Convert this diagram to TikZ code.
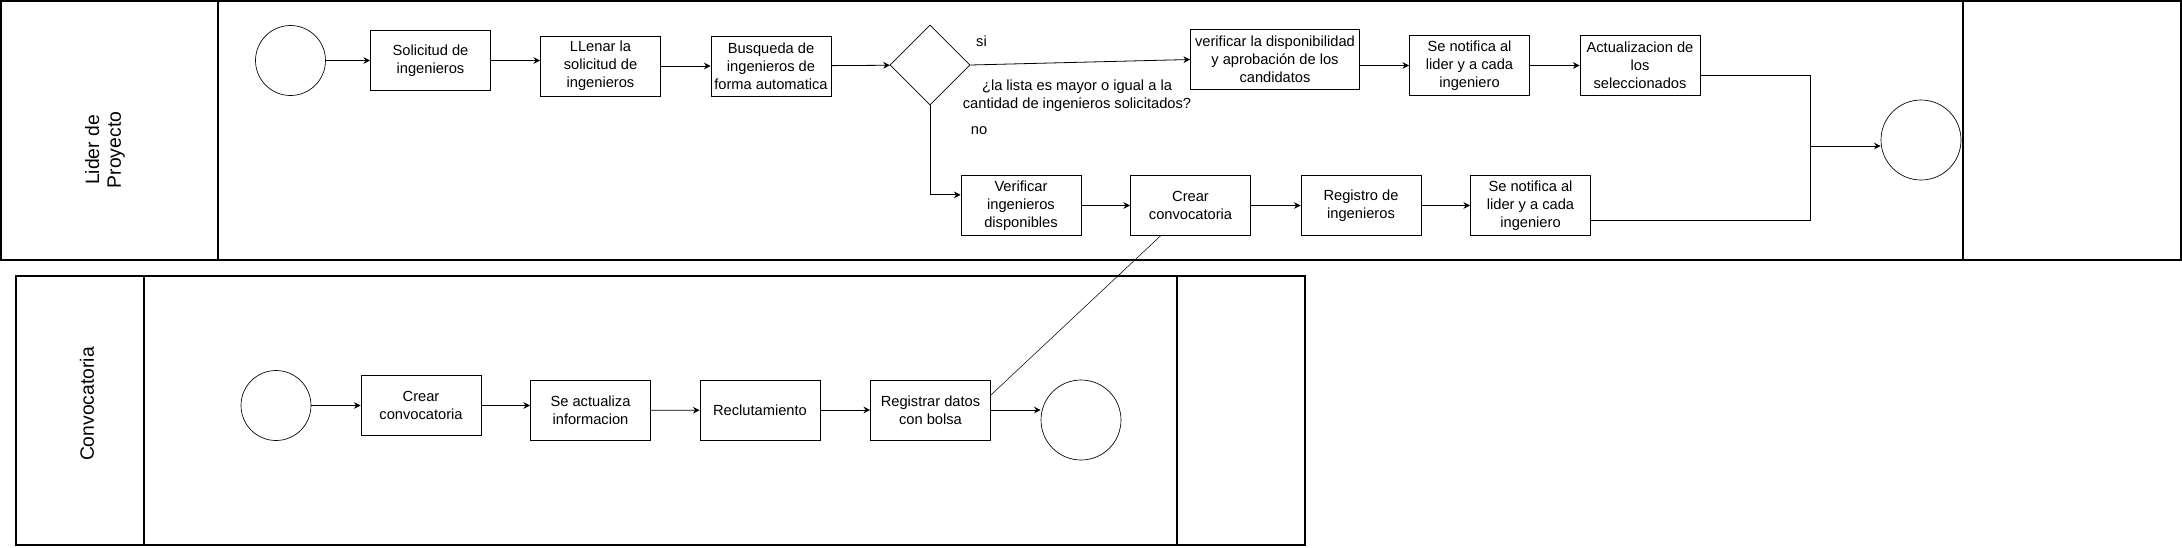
\documentclass[tikz,border=0pt]{standalone}
\usepackage{fontspec}
\setmainfont{Liberation Sans}
\usetikzlibrary{arrows.meta,shapes.geometric}

\begin{document}
\begin{tikzpicture}[x=0.75pt, y=-0.75pt,
        box/.style={draw, line width=0.6pt, minimum width=90pt, minimum height=45pt, inner sep=1pt, align=center, font=\fontsize{11}{13.5}\selectfont},
        start/.style={draw, circle, line width=0.5pt, minimum size=52.5pt, inner sep=0pt},
        stop/.style={draw, circle, line width=0.5pt, minimum size=60pt, inner sep=0pt},
        lbl/.style={font=\fontsize{11}{13.5}\selectfont, align=center, inner sep=0pt},
        lanetitle/.style={rotate=90, align=center, font=\fontsize{14.5}{16.5}\selectfont},
        lane/.style={line width=1pt},
        arr/.style={-{Stealth[length=5pt, width=5pt]}, line width=0.6pt}]
        \useasboundingbox (0, 0) rectangle (2182, 547);
        \draw[lane] (1, 1) rectangle (2181, 260);
        \draw[lane] (218, 1) -- (218, 260);
        \draw[lane] (1963, 1) -- (1963, 260);
        \draw[lane] (16, 276) rectangle (1305, 545);
        \draw[lane] (144, 276) -- (144, 545);
        \draw[lane] (1177, 276) -- (1177, 545);
        \node[lanetitle] (lider) at (105, 150) {Lider de\\Proyecto};
        \node[lanetitle] (conv) at (87, 404) {Convocatoria};
        \node[start] (ini1) at (290.5, 60.5) {};
        \node[box] (sol) at (430.5, 60.5) {Solicitud de\\ingenieros};
        \node[box] (llenar) at (600.5, 66) {LLenar la\\solicitud de\\ingenieros};
        \node[box] (busq) at (771, 66) {Busqueda de\\ingenieros de\\forma automatica};
        \node[draw, diamond, line width=0.5pt, minimum width=60pt, minimum height=60pt, inner sep=0pt] (dec) at (930, 65) {};
        \node[box, minimum width=126.75pt] (verif) at (1275, 59.5) {verificar la disponibilidad\\y aprobación de los\\candidatos};
        \node[box] (not1) at (1469.5, 65.5) {Se notifica al\\lider y a cada\\ingeniero};
        \node[box] (act) at (1640, 65.5) {Actualizacion de\\los\\seleccionados};
        \node[box] (disp) at (1021, 205.5) {Verificar\\ingenieros\\disponibles};
        \node[box] (crear1) at (1190.5, 205.5) {Crear\\convocatoria};
        \node[box] (reg) at (1361, 205.5) {Registro de\\ingenieros};
        \node[box] (not2) at (1530.5, 205.5) {Se notifica al\\lider y a cada\\ingeniero};
        \node[stop] (fin1) at (1921, 140) {};
        \coordinate (junta) at (1810, 146);
        \node[lbl] (si) at (981.5, 41) {si};
        \node[lbl] (no) at (979, 131) {no};
        \node[lbl] (preg) at (1077, 96) {¿la lista es mayor o igual a la\\cantidad de ingenieros solicitados?};
        \node[start] (ini2) at (276, 405.5) {};
        \node[box] (crear2) at (421, 405.5) {Crear\\convocatoria};
        \node[box] (actinf) at (590.5, 410.5) {Se actualiza\\informacion};
        \node[box] (recl) at (760, 410) {Reclutamiento};
        \node[box] (datos) at (930.5, 410) {Registrar datos\\con bolsa};
        \node[stop] (fin2) at (1081, 420) {};
        \draw[arr] (ini1) -- (sol);
        \draw[arr] (sol.east) -- (sol.east -| llenar.west);
        \draw[arr] (llenar) -- (busq);
        \draw[arr] (busq) -- (dec);
        \draw[arr] (dec.east) -- (verif.west);
        \draw[arr] (verif.east |- not1.west) -- (not1.west);
        \draw[arr] (not1) -- (act);
        \draw[arr] (dec.south) |- ([yshift=8pt]disp.west);
        \draw[arr] (disp) -- (crear1);
        \draw[arr] (crear1) -- (reg);
        \draw[arr] (reg) -- (not2);
        \draw[line width=0.6pt] ([yshift=-7.5pt]act.east) -| (junta);
        \draw[line width=0.6pt] ([yshift=-11pt]not2.east) -| (junta);
        \draw[arr] (junta) -- (junta -| fin1.west);
        \draw[line width=0.4pt] ([xshift=-22.5pt]crear1.south) -- ([yshift=11.25pt]datos.east);
        \draw[arr] (ini2) -- (crear2);
        \draw[arr] (crear2.east) -- (crear2.east -| actinf.west);
        \draw[arr] (actinf) -- (recl);
        \draw[arr] (recl) -- (datos);
        \draw[arr] (datos.east) -- (datos.east -| fin2.west);
    \end{tikzpicture}
\end{document}
